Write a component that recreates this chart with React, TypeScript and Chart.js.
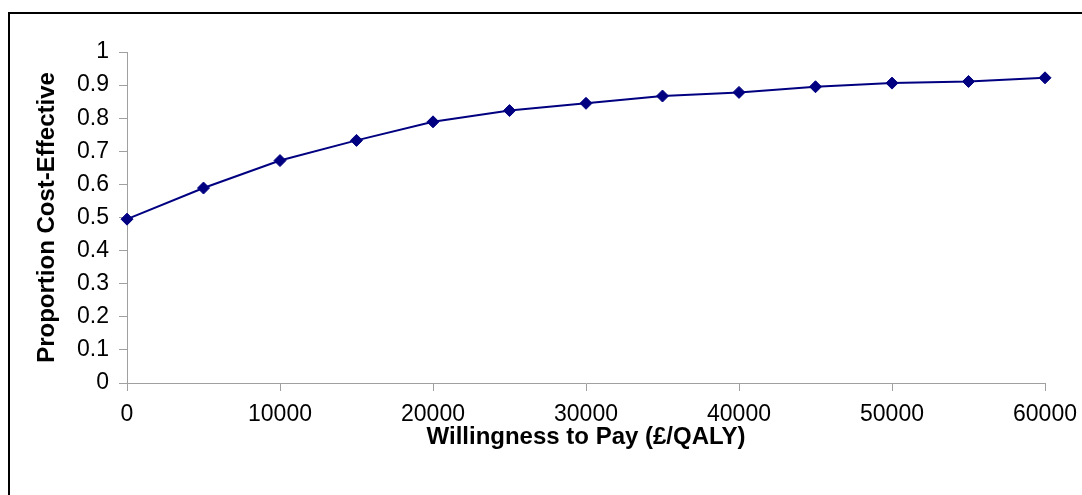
import React, { useEffect, useRef } from "react";
import { Chart, registerables } from "chart.js";

Chart.register(...registerables);

const wtpValues = [0, 5000, 10000, 15000, 20000, 25000, 30000, 35000, 40000, 45000, 50000, 55000, 60000];
const proportionCE = [0.495, 0.589, 0.672, 0.733, 0.789, 0.823, 0.845, 0.867, 0.878, 0.895, 0.906, 0.911, 0.922];
const xTitle = "Willingness to Pay (£/QALY)";
const yTitle = "Proportion Cost-Effective";

const W = 1082;
const H = 495;

const frame = {
  id: "frame",
  afterDraw(chart: any) {
    const ctx = chart.ctx;
    ctx.save();
    ctx.strokeStyle = "#000000";
    ctx.lineWidth = 2;
    ctx.beginPath();
    ctx.moveTo(9, H + 5);
    ctx.lineTo(9, 13);
    ctx.lineTo(W + 5, 13);
    ctx.stroke();
    ctx.restore();
  },
};

export default function App() {
  const ref = useRef<HTMLCanvasElement | null>(null);

  useEffect(() => {
    document.body.style.margin = "0";
    const canvas = ref.current;
    if (!canvas) return;
    const data = wtpValues.map((x, i) => ({ x, y: proportionCE[i] }));
    const axisGray = "#a0a0a0";
    const chart = new Chart(canvas, {
      type: "line",
      data: {
        datasets: [
          {
            data,
            borderColor: "#000080",
            backgroundColor: "#000080",
            borderWidth: 2,
            pointStyle: "rectRot",
            pointRadius: 6,
            pointBorderWidth: 1,
            pointBorderColor: "#000080",
            pointBackgroundColor: "#000080",
            tension: 0,
            fill: false,
            clip: false,
          },
        ],
      },
      options: {
        animation: false,
        responsive: false,
        devicePixelRatio: 1,
        layout: { padding: { top: 52, right: 37, left: 0, bottom: 0 } },
        plugins: { legend: { display: false }, tooltip: { enabled: false } },
        scales: {
          x: {
            type: "linear",
            min: 0,
            max: 60000,
            afterFit: (s: any) => {
              s.height = H - 383;
              s.paddingLeft = 0;
              s.paddingRight = 0;
            },
            ticks: {
              stepSize: 10000,
              color: "#000",
              font: { family: "'Liberation Sans', Arial", size: 23 },
              padding: 10,
              maxRotation: 0,
              callback: (v: any) => String(v),
            },
            grid: {
              drawOnChartArea: false,
              drawTicks: true,
              tickLength: 8,
              color: axisGray,
            },
            border: { display: true, color: axisGray, width: 1 },
            title: {
              display: true,
              text: xTitle,
              color: "#000",
              font: { family: "'Liberation Sans', Arial", size: 24, weight: "bold" },
              padding: { top: 0, bottom: 43 },
            },
          },
          y: {
            type: "linear",
            min: 0,
            max: 1,
            afterFit: (s: any) => {
              s.width = 127;
              s.paddingTop = 0;
              s.paddingBottom = 0;
            },
            ticks: {
              stepSize: 0.1,
              color: "#000",
              font: { family: "'Liberation Sans', Arial", size: 23 },
              padding: 10,
              callback: (v: any) => String(Number(Number(v).toFixed(1))),
            },
            grid: {
              drawOnChartArea: false,
              drawTicks: true,
              tickLength: 8,
              color: axisGray,
            },
            border: { display: true, color: axisGray, width: 1 },
            title: {
              display: true,
              text: yTitle,
              color: "#000",
              font: { family: "'Liberation Sans', Arial", size: 24, weight: "bold" },
              padding: { top: 33, bottom: 0 },
            },
          },
        },
      },
      plugins: [frame],
    } as any);
    return () => chart.destroy();
  }, []);

  return (
    <div style={{ width: W, height: H, background: "#fff" }}>
      <canvas ref={ref} width={W} height={H} style={{ display: "block", width: W, height: H }} />
    </div>
  );
}
